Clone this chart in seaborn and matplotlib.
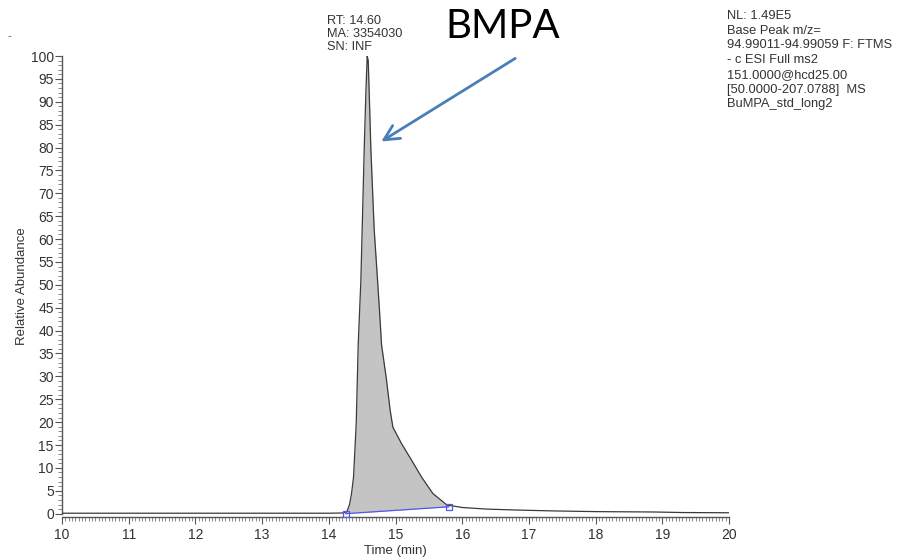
import numpy as np
import pandas as pd
import matplotlib
matplotlib.use("Agg")
import matplotlib.pyplot as plt
from matplotlib.ticker import MultipleLocator
import seaborn as sns

# ---- data ----
time_min = [10.0, 11.0, 12.0, 13.0, 13.5, 14.0, 14.2, 14.27, 14.31, 14.34, 14.37,
            14.41, 14.44, 14.48, 14.53, 14.555, 14.575, 14.59, 14.605, 14.63, 14.68,
            14.73, 14.76, 14.79, 14.86, 14.92, 14.96, 15.09, 15.24, 15.39, 15.56,
            15.77, 16.0, 16.37, 16.8, 17.37, 18.0, 18.87, 19.3, 20.0]
abundance = [0.1, 0.1, 0.1, 0.1, 0.1, 0.1, 0.15, 0.4, 2.0, 4.4, 8.0,
             19.6, 36.9, 51.0, 79.6, 92.0, 100.0, 99.0, 92.0, 79.6, 62.0,
             51.0, 44.2, 36.9, 29.7, 22.5, 18.9, 15.3, 11.7, 8.0, 4.4,
             1.9, 1.35, 1.0, 0.8, 0.6, 0.45, 0.37, 0.25, 0.2]
baseline_t = [14.25, 15.80]
baseline_v = [0.0, 1.5]

peak_info = ["RT: 14.60", "MA: 3354030", "SN: INF"]
scan_info = ["NL: 1.49E5", "Base Peak m/z=", "94.99011-94.99059 F: FTMS",
             "- c ESI Full ms2", "151.0000@hcd25.00", "[50.0000-207.0788]  MS",
             "BuMPA_std_long2"]
compound = "BMPA"

df = pd.DataFrame({"t": time_min, "v": abundance})

sns.set_theme(style="ticks")
plt.rcParams["font.family"] = ["Liberation Sans", "DejaVu Sans"]

fig = plt.figure(figsize=(9, 5.6), dpi=100)
ax = fig.add_axes([0.069, 0.077, 0.741, 0.823])

# filled peak between curve and baseline
tt = np.array(time_min)
vv = np.array(abundance)
mask = (tt >= baseline_t[0]) & (tt <= baseline_t[1])
tf = np.concatenate([[baseline_t[0]], tt[mask], [baseline_t[1]]])
vf = np.interp(tf, tt, vv)
bf = np.interp(tf, baseline_t, baseline_v)
ax.fill_between(tf, bf, vf, color="#c4c4c4", lw=0, zorder=1)

sns.lineplot(data=df, x="t", y="v", ax=ax, color="#3a3a3a", lw=0.9, zorder=3)

# baseline and its end markers
ax.plot(baseline_t, baseline_v, color="#5555ee", lw=0.9, zorder=4)
ax.plot(baseline_t, baseline_v, ls="none", marker="s", ms=5, mfc="none",
        mec="#5555ee", mew=0.9, zorder=4)

ax.set_xlim(10, 20)
ax.set_ylim(-0.7, 100)
ax.xaxis.set_major_locator(MultipleLocator(1))
ax.xaxis.set_minor_locator(MultipleLocator(0.05))
ax.yaxis.set_major_locator(MultipleLocator(5))
ax.yaxis.set_minor_locator(MultipleLocator(1))
ax.tick_params(axis="both", which="major", direction="out", length=5,
               width=0.8, color="#555555", labelsize=10, labelcolor="#333333", pad=1)
ax.tick_params(axis="x", which="major", pad=3)
ax.tick_params(axis="both", which="minor", direction="out", length=3,
               width=0.6, color="#777777")
for s in ["top", "right"]:
    ax.spines[s].set_visible(False)
for s in ["left", "bottom"]:
    ax.spines[s].set_color("#555555")
    ax.spines[s].set_linewidth(1.0)
ax.spines["left"].set_bounds(0, 100)

ax.set_xlabel("Time (min)", fontsize=9.5, color="#333333", labelpad=2)
ax.set_ylabel("Relative Abundance", fontsize=9.5, color="#333333", labelpad=2)

# annotations
fig.text(327 / 900, 1 - 15 / 560, "\n".join(peak_info), fontsize=9.2,
         color="#333333", va="top", ha="left", linespacing=1.12)
fig.text(727 / 900, 1 - 10 / 560, "\n".join(scan_info), fontsize=9.3,
         color="#333333", va="top", ha="left", linespacing=1.3)
fig.text(8 / 900, 1 - 36 / 560, "-", fontsize=8, color="#555555", va="center")

fig.text(503 / 900, 1 - 27 / 560, compound, fontsize=29,
         family=["Lato", "DejaVu Sans"], color="black", ha="center", va="center")

ax.annotate("", xy=(14.75, 81), xytext=(16.83, 99.8), xycoords="data",
            textcoords="data",
            arrowprops=dict(arrowstyle="->,head_length=0.9,head_width=0.45",
                            color="#4a7ebb", lw=2.0), annotation_clip=False)

fig.savefig("out.png", dpi=100)
